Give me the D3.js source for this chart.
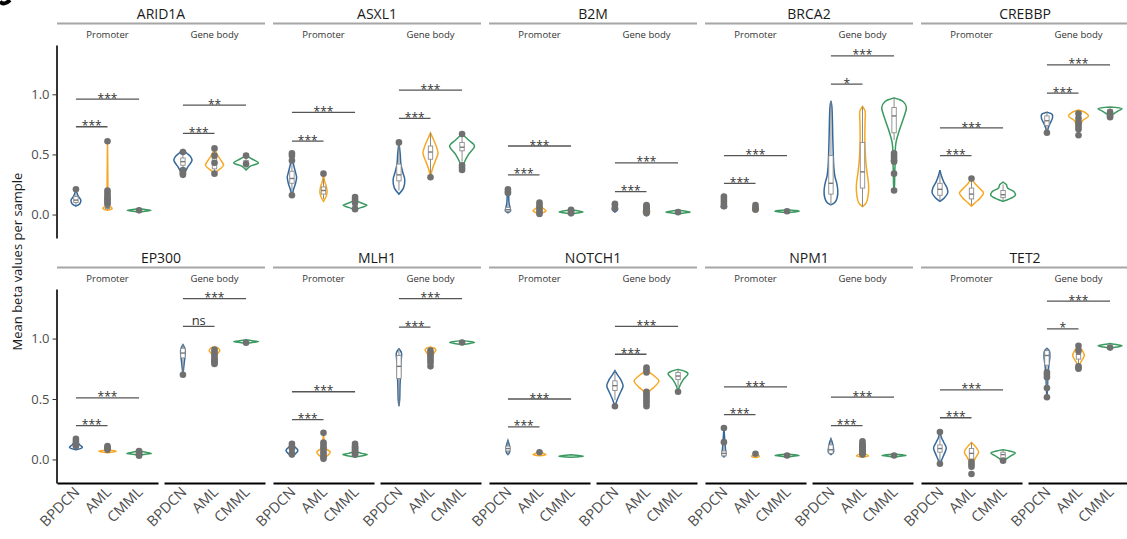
<!DOCTYPE html>
<html><head><meta charset="utf-8">
<script src="https://cdn.jsdelivr.net/npm/d3@7"></script>
<style>body{margin:0;background:#fff} svg{display:block} text{font-family:"Open Sans",sans-serif}</style>
</head><body><svg id="c" width="1127" height="539"></svg>
<script>
const genes = ["ARID1A","ASXL1","B2M","BRCA2","CREBBP","EP300","MLH1","NOTCH1","NPM1","TET2"];
const regions = ["Promoter","Gene body"];
const groups = ["BPDCN","AML","CMML"];
const yTicks = [0, 0.5, 1.0];
const yTitle = "Mean beta values per sample";
const groupColors = ["#35689A","#F7A823","#3A9A60"];

// Each gene: 6 violins in order Promoter(BPDCN, AML, CMML), Gene body(BPDCN, AML, CMML)
// entry = [density profile [[value, relative half-width]], box [lowWhisker, q1, median, q3, highWhisker] or null, outlier values]
const ARID1A = [
  [[[0.07,0],[0.09,0.3],[0.12,0.38],[0.15,0.2],[0.18,0.08],[0.21,0]], [0.08,0.1,0.12,0.15,0.2], [0.21]],
  [[[0.035,0],[0.05,0.36],[0.07,0.2],[0.1,0.08],[0.15,0.05],[0.25,0.03],[0.4,0.02],[0.61,0]], [0.04,0.05,0.06,0.08,0.1], [0.61,0.2,0.18,0.16,0.14,0.13,0.12,0.1,0.09]],
  [[[0.02,0],[0.03,0.6],[0.035,0.92],[0.04,0.6],[0.05,0]], null, [0.035]],
  [[[0.32,0],[0.35,0.15],[0.4,0.4],[0.45,0.7],[0.48,0.6],[0.51,0.3],[0.54,0]], [0.38,0.41,0.44,0.47,0.52], [0.52,0.37,0.35,0.34,0.33]],
  [[[0.33,0],[0.36,0.2],[0.41,0.7],[0.45,0.5],[0.5,0.2],[0.55,0]], [0.34,0.38,0.42,0.47,0.55], [0.55,0.49,0.43,0.34]],
  [[[0.37,0],[0.4,0.3],[0.43,0.95],[0.46,0.5],[0.49,0]], [0.38,0.41,0.43,0.45,0.49], [0.49,0.42]]
];
const ASXL1 = [
  [[[0.15,0],[0.2,0.1],[0.26,0.28],[0.31,0.36],[0.36,0.25],[0.42,0.12],[0.47,0.08],[0.52,0]], [0.17,0.26,0.3,0.36,0.46], [0.51,0.49,0.45,0.16]],
  [[[0.11,0],[0.15,0.2],[0.19,0.28],[0.24,0.2],[0.28,0.08],[0.34,0]], [0.13,0.17,0.2,0.23,0.3], [0.34]],
  [[[0.04,0],[0.06,0.5],[0.077,0.92],[0.1,0.4],[0.12,0.1],[0.15,0]], [0.05,0.065,0.075,0.09,0.12], [0.145,0.125,0.1,0.045]],
  [[[0.17,0],[0.22,0.35],[0.29,0.45],[0.35,0.3],[0.42,0.15],[0.5,0.1],[0.6,0]], [0.2,0.28,0.33,0.42,0.6], [0.6]],
  [[[0.3,0],[0.36,0.1],[0.44,0.35],[0.51,0.58],[0.58,0.4],[0.63,0.2],[0.68,0]], [0.31,0.46,0.52,0.57,0.68], [0.31]],
  [[[0.37,0],[0.42,0.12],[0.5,0.5],[0.57,0.96],[0.62,0.5],[0.67,0]], [0.44,0.53,0.56,0.6,0.67], [0.67,0.41,0.39,0.37]]
];
const B2M = [
  [[[0.015,0],[0.03,0.2],[0.06,0.15],[0.1,0.08],[0.15,0.06],[0.22,0]], [0.015,0.025,0.04,0.06,0.1], [0.21,0.19,0.18]],
  [[[0.0,0],[0.02,0.35],[0.03,0.5],[0.05,0.3],[0.07,0.1],[0.1,0]], [0.0,0.015,0.03,0.045,0.08], [0.1,0.08,0.06,0.04,0.02,0.005]],
  [[[0.005,0],[0.015,0.6],[0.022,0.93],[0.03,0.6],[0.04,0]], null, [0.04,0.03,0.02,0.01]],
  [[[0.02,0],[0.04,0.2],[0.07,0.15],[0.09,0]], null, [0.09,0.08,0.05]],
  [[[0.0,0],[0.02,0.25],[0.04,0.2],[0.07,0.05],[0.08,0]], null, [0.08,0.07,0.06,0.05,0.04,0.03,0.02,0.01]],
  [[[0.005,0],[0.015,0.6],[0.02,0.93],[0.028,0.6],[0.035,0]], null, [0.02]]
];
const BRCA2 = [
  [[[0.05,0],[0.06,0.2],[0.09,0.15],[0.12,0.1],[0.16,0]], null, [0.15,0.13,0.11,0.09,0.07]],
  [[[0.025,0],[0.035,0.23],[0.05,0.15],[0.08,0]], null, [0.08,0.06,0.05,0.04]],
  [[[0.015,0],[0.022,0.6],[0.028,0.93],[0.034,0.6],[0.04,0]], null, [0.028]],
  [[[0.08,0],[0.1,0.3],[0.14,0.48],[0.2,0.53],[0.26,0.45],[0.32,0.3],[0.4,0.22],[0.5,0.18],[0.65,0.14],[0.8,0.11],[0.9,0.07],[0.945,0]], [0.08,0.17,0.26,0.49,0.945], []],
  [[[0.065,0],[0.1,0.3],[0.17,0.45],[0.25,0.47],[0.35,0.35],[0.45,0.25],[0.55,0.2],[0.65,0.18],[0.78,0.2],[0.86,0.2],[0.9,0]], [0.065,0.22,0.355,0.6,0.9], []],
  [[[0.2,0],[0.25,0.04],[0.35,0.05],[0.42,0.08],[0.5,0.08],[0.6,0.15],[0.68,0.35],[0.76,0.6],[0.84,0.85],[0.89,0.95],[0.94,0.7],[0.97,0]], [0.62,0.68,0.82,0.89,0.97], [0.51,0.49,0.47,0.45,0.44,0.34,0.2]]
];
const CREBBP = [
  [[[0.11,0],[0.14,0.35],[0.18,0.6],[0.22,0.55],[0.27,0.3],[0.32,0.12],[0.37,0]], [0.12,0.16,0.21,0.26,0.34], []],
  [[[0.07,0],[0.1,0.3],[0.14,0.7],[0.18,0.93],[0.22,0.6],[0.26,0.25],[0.3,0]], [0.08,0.13,0.17,0.22,0.28], [0.3]],
  [[[0.11,0],[0.13,0.5],[0.16,0.95],[0.19,0.85],[0.22,0.35],[0.25,0.25],[0.27,0]], [0.12,0.14,0.165,0.2,0.25], []],
  [[[0.68,0],[0.72,0.1],[0.76,0.25],[0.8,0.42],[0.83,0.42],[0.85,0]], [0.69,0.74,0.78,0.82,0.85], [0.68]],
  [[[0.66,0],[0.72,0.1],[0.78,0.3],[0.82,0.77],[0.85,0.5],[0.87,0]], [0.76,0.79,0.81,0.83,0.86], [0.84,0.8,0.77,0.75,0.73,0.71,0.66]],
  [[[0.8,0],[0.83,0.2],[0.86,0.6],[0.88,0.93],[0.895,0]], [0.81,0.84,0.86,0.875,0.89], [0.85,0.82,0.81]]
];
const EP300 = [
  [[[0.08,0],[0.1,0.5],[0.12,0.3],[0.15,0.08],[0.18,0]], null, [0.17,0.15,0.13,0.11]],
  [[[0.055,0],[0.066,0.67],[0.08,0.2],[0.1,0.05],[0.12,0]], null, [0.11,0.1,0.09,0.08]],
  [[[0.035,0],[0.045,0.6],[0.05,0.95],[0.058,0.6],[0.07,0]], null, [0.07,0.06,0.05,0.04,0.03]],
  [[[0.7,0],[0.75,0.05],[0.8,0.1],[0.86,0.16],[0.9,0.18],[0.93,0.1],[0.95,0]], [0.7,0.84,0.88,0.92,0.95], [0.7]],
  [[[0.79,0],[0.83,0.1],[0.87,0.2],[0.9,0.41],[0.92,0.3],[0.93,0]], null, [0.91,0.89,0.87,0.85,0.83,0.82,0.81,0.8,0.79]],
  [[[0.96,0],[0.97,0.6],[0.975,0.96],[0.98,0.6],[0.99,0]], null, [0.965]]
];
const MLH1 = [
  [[[0.03,0],[0.05,0.3],[0.074,0.46],[0.1,0.25],[0.12,0.05],[0.14,0]], null, [0.13,0.11,0.09,0.05,0.04]],
  [[[0.0,0],[0.03,0.3],[0.06,0.52],[0.09,0.2],[0.13,0.05],[0.16,0.04],[0.22,0]], null, [0.22,0.14,0.12,0.1,0.08,0.06,0.04,0.02,0.005]],
  [[[0.02,0],[0.03,0.6],[0.04,0.94],[0.05,0.5],[0.07,0.1],[0.13,0]], null, [0.13,0.11,0.1,0.09,0.08,0.07,0.06,0.05,0.04]],
  [[[0.44,0],[0.5,0.06],[0.6,0.08],[0.7,0.12],[0.8,0.15],[0.88,0.2],[0.915,0]], [0.44,0.67,0.77,0.86,0.915], []],
  [[[0.77,0],[0.82,0.1],[0.87,0.2],[0.905,0.42],[0.92,0.3],[0.93,0]], null, [0.9,0.88,0.86,0.84,0.82,0.8,0.77]],
  [[[0.95,0],[0.96,0.6],[0.967,0.96],[0.975,0.6],[0.985,0]], null, [0.967]]
];
const NOTCH1 = [
  [[[0.04,0],[0.06,0.12],[0.09,0.14],[0.12,0.1],[0.157,0]], [0.04,0.07,0.09,0.11,0.15], []],
  [[[0.03,0],[0.04,0.5],[0.05,0.3],[0.07,0]], null, [0.06]],
  [[[0.018,0],[0.023,0.6],[0.027,0.94],[0.032,0.6],[0.038,0]], null, []],
  [[[0.44,0],[0.5,0.2],[0.56,0.45],[0.61,0.63],[0.66,0.45],[0.7,0.2],[0.735,0]], [0.49,0.57,0.61,0.65,0.73], [0.44]],
  [[[0.43,0],[0.5,0.05],[0.56,0.2],[0.6,0.6],[0.65,0.96],[0.69,0.6],[0.72,0.25],[0.76,0]], null, [0.76,0.74,0.72,0.56,0.54,0.52,0.5,0.48,0.46,0.44]],
  [[[0.56,0],[0.6,0.1],[0.66,0.4],[0.71,0.77],[0.73,0.5],[0.745,0]], [0.6,0.66,0.69,0.72,0.74], [0.56]]
];
const NPM1 = [
  [[[0.02,0],[0.04,0.15],[0.08,0.12],[0.15,0.07],[0.26,0]], [0.02,0.03,0.05,0.07,0.15], [0.26,0.143]],
  [[[0.015,0],[0.025,0.3],[0.04,0.15],[0.05,0]], null, [0.047]],
  [[[0.02,0],[0.028,0.6],[0.033,0.93],[0.038,0.6],[0.045,0]], null, [0.033]],
  [[[0.04,0],[0.06,0.2],[0.1,0.18],[0.14,0.1],[0.17,0]], [0.04,0.05,0.08,0.12,0.17], []],
  [[[0.02,0],[0.03,0.46],[0.05,0.15],[0.1,0.05],[0.15,0]], null, [0.15,0.13,0.12,0.11,0.1,0.09,0.08,0.07,0.06,0.05,0.04]],
  [[[0.02,0],[0.028,0.6],[0.033,0.93],[0.038,0.6],[0.045,0]], null, [0.033]]
];
const TET2 = [
  [[[-0.04,0],[0.0,0.15],[0.05,0.35],[0.094,0.49],[0.14,0.3],[0.18,0.12],[0.23,0]], [-0.03,0.06,0.09,0.12,0.2], [0.226,-0.036]],
  [[[-0.05,0],[-0.02,0.15],[0.02,0.35],[0.06,0.55],[0.1,0.35],[0.14,0]], [-0.04,0.0,0.05,0.09,0.14], [-0.02,-0.04,-0.06,-0.12]],
  [[[-0.022,0],[0.0,0.2],[0.03,0.6],[0.052,0.95],[0.07,0.5],[0.08,0]], [-0.01,0.0,0.04,0.06,0.08], [-0.01]],
  [[[0.51,0],[0.6,0.05],[0.7,0.08],[0.78,0.15],[0.86,0.23],[0.9,0.18],[0.92,0]], [0.6,0.78,0.86,0.9,0.92], [0.72,0.7,0.68,0.59,0.515]],
  [[[0.75,0],[0.8,0.15],[0.86,0.45],[0.9,0.3],[0.94,0]], [0.77,0.83,0.87,0.9,0.94], [0.94,0.9,0.77,0.76,0.75]],
  [[[0.92,0],[0.93,0.5],[0.94,0.93],[0.95,0.5],[0.96,0]], null, [0.925]]
];
const violinSets = [ARID1A, ASXL1, B2M, BRCA2, CREBBP, EP300, MLH1, NOTCH1, NPM1, TET2];

// significance: per gene, per region: [BPDCN-AML height, label, BPDCN-CMML height, label]
const brackets = [
  [[0.73,"***",0.96,"***"],[0.675,"***",0.91,"**"]],
  [[0.61,"***",0.85,"***"],[0.8,"***",1.035,"***"]],
  [[0.33,"***",0.57,"***"],[0.19,"***",0.43,"***"]],
  [[0.26,"***",0.49,"***"],[1.085,"*",1.32,"***"]],
  [[0.49,"***",0.72,"***"],[1.01,"***",1.245,"***"]],
  [[0.28,"***",0.51,"***"],[1.1,"ns",1.33,"***"]],
  [[0.33,"***",0.56,"***"],[1.095,"***",1.33,"***"]],
  [[0.27,"***",0.5,"***"],[0.87,"***",1.1,"***"]],
  [[0.37,"***",0.6,"***"],[0.28,"***",0.515,"***"]],
  [[0.345,"***",0.576,"***"],[1.08,"*",1.31,"***"]]
];

// ---------- layout ----------
const svg = d3.select("#c");
const colStep = 216, panelW = 208, subW = 101, subOff = 107, left0 = 57;
const rowOff = [0, 244];
const yDomain = [-0.195, 1.41];
const yScales = [
  d3.scaleLinear().domain(yDomain).range([238, 45]),
  d3.scaleLinear().domain(yDomain).range([483, 289])
];

// fragment of the figure's panel letter, clipped at the corner
svg.append("path").attr("d", "M0,1.5 Q4,6 10,0").attr("fill", "none").attr("stroke", "#000").attr("stroke-width", 4);

// y title
svg.append("text").attr("transform", "translate(21.5,261.5) rotate(-90)").attr("text-anchor", "middle")
  .attr("font-size", 13).attr("fill", "#1a1a1a").text(yTitle);

const ptColor = "#707070", boxColor = "#8c8c8c";

genes.forEach((gene, gi) => {
  const row = Math.floor(gi / 5), col = gi % 5;
  const y = yScales[row];
  const x0 = left0 + col * colStep;
  const ro = rowOff[row];
  const g = svg.append("g");

  // strip
  g.append("text").attr("x", x0 + panelW / 2).attr("y", 18.5 + ro).attr("text-anchor", "middle")
    .attr("font-size", 14).attr("fill", "#1a1a1a").text(gene);
  g.append("line").attr("x1", x0).attr("x2", x0 + panelW).attr("y1", 23.5 + ro).attr("y2", 23.5 + ro)
    .attr("stroke", "#a6a6a6").attr("stroke-width", 2);

  // y axis on first column
  if (col === 0) {
    const ax = g.append("g").attr("transform", "translate(56.5,0)")
      .call(d3.axisLeft(y).tickValues(yTicks).tickFormat(d3.format(".1f")).tickSize(4).tickSizeOuter(0));
    ax.select(".domain").attr("stroke", "#000").attr("stroke-width", 1.6);
    ax.selectAll(".tick line").attr("stroke", "#333").attr("stroke-width", 1);
    ax.selectAll(".tick text").attr("font-size", 13).attr("fill", "#4d4d4d").attr("font-family", "Open Sans").attr("x", -7);
  }

  regions.forEach((reg, ri) => {
    const sx0 = x0 + ri * subOff;
    const x = d3.scalePoint().domain(groups).range([sx0, sx0 + subW]).padding(0.6);
    const maxHalf = x.step() * 0.41;

    g.append("text").attr("x", sx0 + subW / 2).attr("y", 38 + ro).attr("text-anchor", "middle")
      .attr("font-size", 9.5).attr("fill", "#333").text(reg);

    if (row === 1) {
      const xa = g.append("g").attr("transform", `translate(0,${y.range()[0]})`)
        .call(d3.axisBottom(x).tickSize(0).tickSizeOuter(0));
      xa.select(".domain").attr("stroke", "#000").attr("stroke-width", 2);
      xa.selectAll(".tick text").attr("y", null).attr("dy", null)
        .attr("transform", "translate(4,10) rotate(-45)").attr("text-anchor", "end")
        .attr("font-size", 14.5).attr("fill", "#4d4d4d").attr("font-family", "Open Sans");
    }

    groups.forEach((grp, k) => {
      const [shape, box, pts] = violinSets[gi][ri * 3 + k];
      const cx = x(grp);
      const area = d3.area()
        .y(d => y(d[0]))
        .x0(d => cx - d[1] * maxHalf)
        .x1(d => cx + d[1] * maxHalf)
        .curve(d3.curveCatmullRom.alpha(0.5));
      g.append("path").attr("d", area(shape)).attr("fill", "none")
        .attr("stroke", groupColors[k]).attr("stroke-width", 1.5);
      if (box) {
        const [lo, q1, med, q3, hi] = box;
        g.append("line").attr("x1", cx).attr("x2", cx).attr("y1", y(lo)).attr("y2", y(hi))
          .attr("stroke", boxColor).attr("stroke-width", 1);
        g.append("rect").attr("x", cx - 2.2).attr("width", 4.4).attr("y", y(q3)).attr("height", Math.max(0.5, y(q1) - y(q3)))
          .attr("fill", "#fff").attr("stroke", boxColor).attr("stroke-width", 0.9);
        g.append("line").attr("x1", cx - 2.2).attr("x2", cx + 2.2).attr("y1", y(med)).attr("y2", y(med))
          .attr("stroke", "#777").attr("stroke-width", 1.4);
      }
      g.selectAll(null).data(pts).enter().append("circle")
        .attr("cx", cx).attr("cy", d => y(d)).attr("r", 3.3).attr("fill", ptColor);
    });

    // significance brackets
    const [h1, l1, h2, l2] = brackets[gi][ri];
    [[groups[1], h1, l1], [groups[2], h2, l2]].forEach(([grp2, h, lab]) => {
      const xa = x(groups[0]), xb = x(grp2), yy = y(h);
      g.append("line").attr("x1", xa).attr("x2", xb).attr("y1", yy).attr("y2", yy)
        .attr("stroke", "#555").attr("stroke-width", 1.3);
      const isNs = lab === "ns";
      g.append("text").attr("x", (xa + xb) / 2).attr("y", isNs ? yy - 1.5 : yy + 3.6)
        .attr("text-anchor", "middle").attr("font-size", isNs ? 13 : 12)
        .attr("fill", "#333").text(lab);
    });
  });
});
</script>
</body></html>
